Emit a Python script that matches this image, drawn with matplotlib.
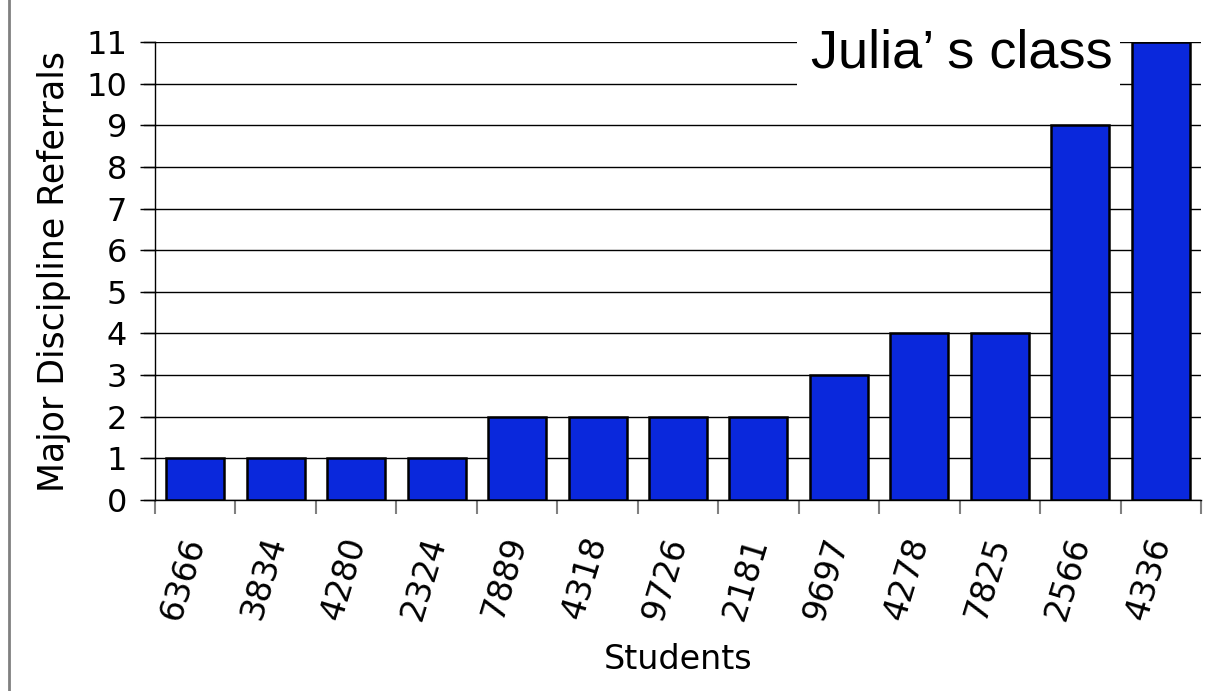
import numpy as np
import matplotlib.pyplot as plt
from matplotlib.lines import Line2D
from matplotlib.patches import Rectangle

# data
students = ['6366', '3834', '4280', '2324', '7889', '4318', '9726',
            '2181', '9697', '4278', '7825', '2566', '4336']
referrals = [1, 1, 1, 1, 2, 2, 2, 2, 3, 4, 4, 9, 11]
yticks = list(range(0, 12))

fig = plt.figure(figsize=(12.11, 6.91), dpi=100)
ax = fig.add_axes([155/1211, 1 - 500/691, (1201-155)/1211, (500-42)/691])

x = np.arange(len(students))
ax.bar(x, referrals, width=0.72, color='#0a28dc', edgecolor='black', linewidth=1.8, zorder=3)

ax.set_xlim(-0.5, len(students) - 0.5)
ax.set_ylim(0, 11)
ax.set_yticks(yticks)
ax.tick_params(axis='y', labelsize=23, length=11, width=1, direction='out', pad=9)
ax.yaxis.grid(True, color='black', linewidth=1, zorder=0)

# gray boundary ticks on x axis
ax.set_xticks(np.arange(-0.5, len(students) + 0.5, 1))
ax.set_xticklabels([])
ax.tick_params(axis='x', length=10, width=1.5, color='#808080')
ax.set_xticks(x, minor=True)
ax.set_xticklabels(students, minor=True, rotation=73, fontsize=24,
                   ha='right', va='center', rotation_mode='anchor')
ax.tick_params(axis='x', which='minor', length=0, pad=27)

for s in ['top', 'right']:
    ax.spines[s].set_visible(False)
ax.spines['left'].set_linewidth(1)
ax.spines['bottom'].set_linewidth(1)

# extend gridlines left past the spine as in the original
for yv in yticks:
    ax.plot([-0.64, -0.5], [yv, yv], color='black', lw=1, clip_on=False)

ax.set_ylabel('Major Discipline Referrals', fontsize=25, labelpad=11)
ax.set_xlabel('Students', fontsize=24, labelpad=14)

# title on a white patch that hides the top gridlines
fig.add_artist(Rectangle((797/1211, 1 - 92/691), (1120-797)/1211, 80/691,
                         transform=fig.transFigure, facecolor='white',
                         edgecolor='none', zorder=5))
fig.text(962/1211, 1 - 53/691, 'Julia\u2019 s class', fontsize=39, family='Liberation Sans',
         ha='center', va='center', zorder=6)

fig.add_artist(Line2D([9/1211, 9/1211], [0, 1], color='#808080', lw=2))

fig.savefig('out.png', dpi=100)
